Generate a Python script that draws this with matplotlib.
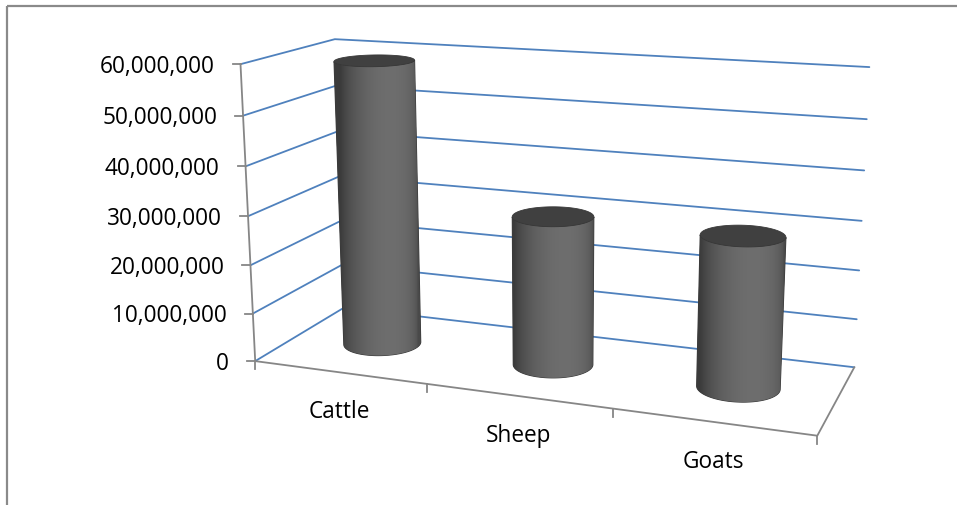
import numpy as np
import matplotlib
matplotlib.use("Agg")
import matplotlib.pyplot as plt
from matplotlib.patches import Rectangle, Polygon
from matplotlib.collections import LineCollection

# ---- data -------------------------------------------------------------
categories = ["Cattle", "Sheep", "Goats"]
values = [59_000_000, 30_400_000, 30_000_000]
y_ticks = [0, 10_000_000, 20_000_000, 30_000_000, 40_000_000, 50_000_000, 60_000_000]
y_max = 60_000_000

# ---- 3-D view of the plot box -----------------------------------------
# box: one unit per category across, DEPTH units deep, HEIGHT units tall
AZIM = 0.35436
ELEV = 0.24801
DIST = 8.0408
FOCAL = 1559.87
CX, CY = 553.05, 219.51
DEPTH = 1.00677
HEIGHT = 1.58662
RADIUS = 0.21

GRID_BLUE = "#4F81BD"
AXIS_GRAY = "#868686"
FONT = "Open Sans"
FS = 16.3

n_cat = len(categories)
target = np.array([n_cat / 2, DEPTH / 2, HEIGHT / 2])
view = np.array([np.sin(AZIM) * np.cos(ELEV), -np.cos(AZIM) * np.cos(ELEV), np.sin(ELEV)])
eye = target + DIST * view
fwd = -view
right = np.cross(fwd, [0.0, 0.0, 1.0])
right /= np.linalg.norm(right)
up = np.cross(right, fwd)


def world(x, depth, value):
    x, depth, value = np.broadcast_arrays(np.asarray(x, float), np.asarray(depth, float),
                                          np.asarray(value, float))
    return np.stack([x, depth, value / y_max * HEIGHT], axis=-1)


def project(pts):
    d = pts - eye
    zc = d @ fwd
    return np.stack([CX + FOCAL * (d @ right) / zc, CY - FOCAL * (d @ up) / zc], axis=-1)


def proj(x, depth, value):
    return project(world(x, depth, value))


fig = plt.figure(figsize=(9.57, 5.06), dpi=100)
ax = fig.add_axes([0, 0, 1, 1])
ax.set_xlim(0, 957)
ax.set_ylim(506, 0)
ax.axis("off")

# chart area border
ax.add_patch(Rectangle((7, 7), 1200, 800, fill=False, ec="#8A8A8A", lw=1.6, zorder=0))

# gridlines on the side wall and back wall
grid = [proj([0, 0, n_cat], [0, DEPTH, DEPTH], [v, v, v]) for v in y_ticks]
ax.add_collection(LineCollection(grid, colors=GRID_BLUE, lw=1.3, zorder=1,
                                 capstyle="round", joinstyle="round"))

# cylinders
theta = np.linspace(-np.pi, np.pi, 721)
ang = 0.30  # light turned a little to the left of the viewer
rot = np.array([[np.cos(ang), -np.sin(ang)], [np.sin(ang), np.cos(ang)]])
for i, val in enumerate(values):
    xc, yc = i + 0.5, DEPTH / 2
    cx = xc + RADIUS * np.cos(theta)
    cy = yc + RADIUS * np.sin(theta)
    bot = proj(cx, cy, 0)
    top = proj(cx, cy, val)
    mid = proj(cx, cy, val / 2)

    foot = world(cx, cy, val / 2)
    to_eye = eye - foot
    to_eye_h = to_eye[:, :2] / np.linalg.norm(to_eye[:, :2], axis=1, keepdims=True)
    normals = np.stack([np.cos(theta), np.sin(theta)], axis=1)
    facing = np.sum(normals * to_eye_h, axis=1) > 0
    idx = np.where(facing)[0]

    # visible side: front arc at the bottom, front arc at the top
    outline = np.vstack([bot[idx], top[idx][::-1]])
    body = Polygon(outline, closed=True, fc="#3A3A3A", ec="#3A3A3A", lw=0.8, zorder=2)
    ax.add_patch(body)

    lv = to_eye_h[idx] @ rot.T
    s = np.clip(np.sum(normals[idx] * lv, axis=1), 0, None)
    g = 0.235 + 0.195 * s ** 1.1
    order = np.argsort(mid[idx, 0])
    xs = np.linspace(outline[:, 0].min(), outline[:, 0].max(), 400)
    gx = np.interp(xs, mid[idx, 0][order], g[order])
    img = np.repeat(gx[None, :, None], 3, axis=2)
    im = ax.imshow(img, extent=(xs[0], xs[-1], outline[:, 1].max(), outline[:, 1].min()),
                   aspect="auto", interpolation="bilinear", zorder=2.1)
    im.set_clip_path(body)

    # dark cap on top
    ax.add_patch(Polygon(top, closed=True, fc="#404040", ec="#383838", lw=0.6, zorder=2.5))

# value axis and floor edges
ax.plot(*proj([0, 0], [0, 0], [0, y_max]).T, color=AXIS_GRAY, lw=1.3, zorder=3)
ax.plot(*proj([0, n_cat, n_cat], [0, 0, DEPTH], [0, 0, 0]).T, color=AXIS_GRAY,
        lw=1.3, zorder=3)

# value ticks and labels
for v in y_ticks:
    px, py = proj(0, 0, v)
    ax.plot([px - 8, px], [py, py], color=AXIS_GRAY, lw=1.3, zorder=3)
    ax.text(px - 26, py + 1.5, f"{v:,}", ha="right", va="center", fontsize=FS,
            family=FONT, color="black", zorder=4)

# category ticks and labels
for i in range(n_cat + 1):
    px, py = proj(i, 0, 0)
    ax.plot([px, px], [py, py + 8], color=AXIS_GRAY, lw=1.3, zorder=3)
for i, name in enumerate(categories):
    px, py = proj(i + 0.5, 0, 0)
    ax.text(px, py + 39, name, ha="center", va="center", fontsize=FS,
            family=FONT, color="black", zorder=4)

fig.savefig("out.png", dpi=100)
